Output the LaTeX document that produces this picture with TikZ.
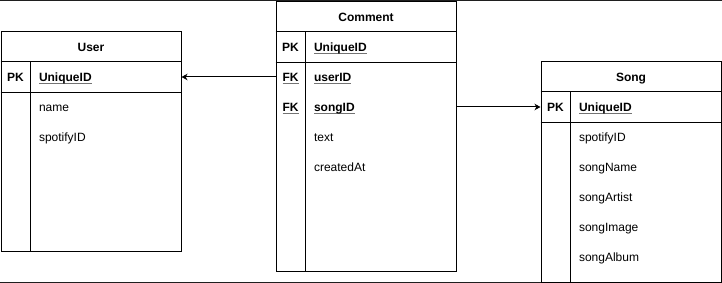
\documentclass[tikz,border=0pt]{standalone}
\usepackage{fontspec}
\setmainfont{Liberation Sans}
\usetikzlibrary{arrows.meta}

% underlined key name with a grey rule under it
\newcommand\keyline[1]{\setbox0\hbox{#1}\rlap{\textcolor{black!55}{\rule[-2.2pt]{\wd0}{0.9pt}}}\box0}

% one table row: name, top-left corner, key tag, field text, field style
\newcommand\keyrow[5]{%
  \node[rowbox] (#1) at (#2) {};
  \node[keytag] (#1-key) at ([xshift=15pt,yshift=-4.5pt]#1.west) {#3};
  \node[#5] (#1-text) at ([xshift=38pt,yshift=-4.5pt]#1.west) {#4};
}
% a row with no key tag
\newcommand\plainrow[3]{%
  \node[rowbox] (#1) at (#2) {};
  \node[field] (#1-text) at ([xshift=38pt,yshift=-4.5pt]#1.west) {#3};
}

\begin{document}
\begin{tikzpicture}[x=1pt,y=-1pt,
  font=\fontsize{12pt}{14pt}\selectfont,
  every path/.style={line width=1pt},
  frame/.style={draw=black!88, line width=1.3pt},
  tablebox/.style={draw, anchor=north west, inner sep=0pt, minimum width=180pt},
  rowbox/.style={anchor=north west, inner sep=0pt, minimum width=180pt, minimum height=30pt},
  headbox/.style={rowbox, font=\fontsize{12pt}{14pt}\selectfont\bfseries, text height=9.5pt, text depth=0pt},
  keytag/.style={anchor=base, inner sep=0pt, font=\fontsize{12pt}{14pt}\selectfont\bfseries},
  field/.style={anchor=base west, inner sep=0pt},
  keyfield/.style={field, font=\fontsize{12pt}{14pt}\selectfont\bfseries},
  sep/.style={draw},
  link/.style={draw, line width=1pt, -{Stealth[length=6pt,width=6.5pt,inset=1.8pt]}}
]
\useasboundingbox (0,0) rectangle (722,283);

% page frame lines
\draw[frame] (0,0.7) -- (722,0.7);
\draw[frame] (0,282.3) -- (722,282.3);

% ---------------- User ----------------
\node[tablebox, minimum height=219.5pt] (user) at (0.5,31.5) {};
\node[headbox] (user-head) at (0.5,31.5) {User};
\keyrow{user-pk}{0.5,61.5}{PK}{\keyline{UniqueID}}{keyfield}
\plainrow{user-name}{0.5,91.5}{name}
\plainrow{user-spotify}{0.5,121.5}{spotifyID}
\draw[sep] (user-pk.north west) -- (user-pk.north east);
\draw[sep] (user-pk.south west) -- (user-pk.south east);
\draw[sep] ([xshift=30pt]user-pk.north west) -- ([xshift=30pt]user.south west);

% ---------------- Comment ----------------
\node[tablebox, minimum height=269pt] (comment) at (275.5,1.5) {};
\node[headbox] (comment-head) at (275.5,1.5) {Comment};
\keyrow{comment-pk}{275.5,31.5}{PK}{\keyline{UniqueID}}{keyfield}
\keyrow{comment-user}{275.5,61.5}{\keyline{FK}}{\keyline{userID}}{keyfield}
\keyrow{comment-song}{275.5,91.5}{\keyline{FK}}{\keyline{songID}}{keyfield}
\plainrow{comment-text}{275.5,121.5}{text}
\plainrow{comment-created}{275.5,151.5}{createdAt}
\draw[sep] (comment-pk.north west) -- (comment-pk.north east);
\draw[sep] (comment-pk.south west) -- (comment-pk.south east);
\draw[sep] ([xshift=30pt]comment-pk.north west) -- ([xshift=30pt]comment.south west);

% ---------------- Song ----------------
\node[tablebox, minimum height=220pt] (song) at (540.5,61.5) {};
\node[headbox] (song-head) at (540.5,61.5) {Song};
\keyrow{song-pk}{540.5,91.5}{PK}{\keyline{UniqueID}}{keyfield}
\plainrow{song-spotify}{540.5,121.5}{spotifyID}
\plainrow{song-name}{540.5,151.5}{songName}
\plainrow{song-artist}{540.5,181.5}{songArtist}
\plainrow{song-image}{540.5,211.5}{songImage}
\plainrow{song-album}{540.5,241.5}{songAlbum}
\draw[sep] (song-pk.north west) -- (song-pk.north east);
\draw[sep] (song-pk.south west) -- (song-pk.south east);
\draw[sep] ([xshift=30pt]song-pk.north west) -- ([xshift=30pt]song.south west);

% ---------------- relations ----------------
\draw[link] (comment-user.west) -- (user-pk.east);
\draw[link] (comment-song.east) -- (song-pk.west);
\end{tikzpicture}
\end{document}
